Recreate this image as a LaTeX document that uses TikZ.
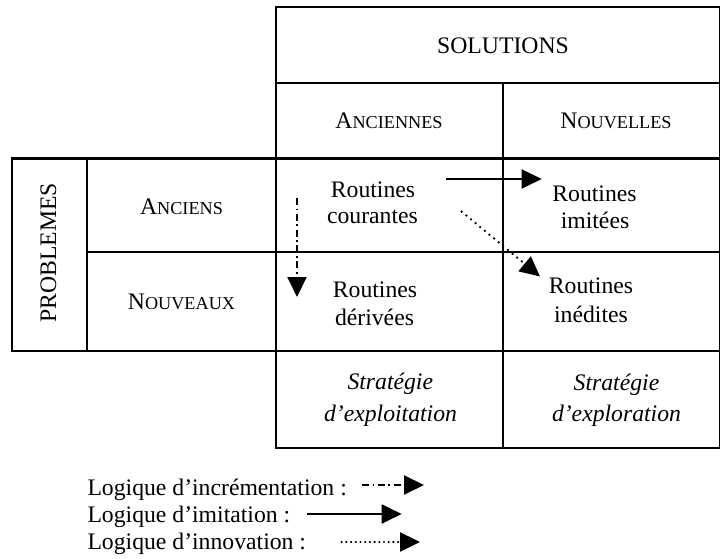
\documentclass[tikz,border=0pt]{standalone}
\usepackage{fontspec}
\setmainfont{Liberation Serif}
\usetikzlibrary{arrows.meta}
% small capitals built from a full-size initial and reduced capitals
\newcommand\fakesc[2]{#1{\fontsize{18.2}{20}\selectfont #2}}
\begin{document}
\begin{tikzpicture}[x=1pt,y=-1pt,
  grid/.style={line width=2.4pt, line cap=rect},
  lbl/.style={inner sep=0pt, font=\fontsize{23.7}{27}\selectfont},
  linebase/.style={lbl, anchor=base},
  legline/.style={lbl, anchor=base west},
  flow/.style={line width=2pt, -{Triangle[length=20pt,width=19pt]}},
  imitation/.style={flow},
  increment/.style={flow, dash pattern=on 7pt off 3.5pt on 1.8pt off 3.5pt},
  innovation/.style={flow, line width=2.6pt, line cap=round, dash pattern=on 0pt off 6pt},
  leginnovation/.style={flow, line width=2.4pt, line cap=round, dash pattern=on 0pt off 4.7pt},
]
\useasboundingbox[fill=white] (0,0) rectangle (720,559);

% table rules
\draw[grid] (275.7,448) -- (275.7,7) -- (730,7);
\draw[grid] (275.7,83) -- (730,83);
\draw[grid] (12,158.5) -- (730,158.5);
\draw[grid] (87,252) -- (730,252);
\draw[grid] (12,351) -- (730,351);
\draw[grid] (275.7,448) -- (730,448);
\draw[grid] (12,158.5) -- (12,351);
\draw[grid] (87,158.5) -- (87,351);
\draw[grid] (502.7,83) -- (502.7,448);
\draw[grid] (720.2,7) -- (720.2,448);

% headings
\node[lbl] (solutions) at (503,45.5) {SOLUTIONS};
\node[lbl] (anciennes) at (389,120.5) {\fakesc{A}{NCIENNES}};
\node[lbl] (nouvelles) at (616,120.5) {\fakesc{N}{OUVELLES}};
\node[lbl, rotate=90] (problemes) at (48.5,253) {PROBLEMES};
\node[lbl] (anciens) at (181.5,206.5) {\fakesc{A}{NCIENS}};
\node[lbl] (nouveaux) at (181.5,301.5) {\fakesc{N}{OUVEAUX}};

% routines
\node[linebase] (courantesA) at (373,197.4) {Routines};
\node[linebase] (courantesB) at (372.5,223.3) {courantes};
\node[linebase] (imiteesA) at (594.5,201.3) {Routines};
\node[linebase] (imiteesB) at (595,228) {imitées};
\node[linebase] (deriveesA) at (375,297.4) {Routines};
\node[linebase] (deriveesB) at (374.5,325) {dérivées};
\node[linebase] (ineditesA) at (591,293.8) {Routines};
\node[linebase] (ineditesB) at (591,322.7) {inédites};

% strategies
\node[linebase] (exploitA) at (390.3,389.5) {\itshape Stratégie};
\node[linebase] (exploitB) at (390.5,421) {\itshape d’exploitation};
\node[linebase] (explorA) at (616.5,390) {\itshape Stratégie};
\node[linebase] (explorB) at (616.5,421.5) {\itshape d’exploration};

% movements between routines
\coordinate (imitStart) at (446,179);
\coordinate (imitEnd) at (541.7,179);
\coordinate (incrStart) at (297,198);
\coordinate (incrEnd) at (297,297);
\coordinate (innovStart) at (461.7,211.7);
\coordinate (innovEnd) at (540,276.5);
\draw[imitation] (imitStart) -- (imitEnd);
\draw[increment] (incrStart) -- (incrEnd);
\draw[innovation] (innovStart) -- (innovEnd);

% legend
\node[legline] (legincr) at (87.3,495) {Logique d’incrémentation :};
\node[legline] (legimit) at (87.3,522) {Logique d’imitation :};
\node[legline] (leginnov) at (87.3,549) {Logique d’innovation :};
\coordinate (legincrS) at (362,485);
\coordinate (legincrE) at (424,485);
\coordinate (legimitS) at (306.7,514);
\coordinate (legimitE) at (401.7,514);
\coordinate (leginnovS) at (341.7,542);
\coordinate (leginnovE) at (420,542);
\draw[increment] (legincrS) -- (legincrE);
\draw[imitation] (legimitS) -- (legimitE);
\draw[leginnovation] (leginnovS) -- (leginnovE);
\end{tikzpicture}
\end{document}
